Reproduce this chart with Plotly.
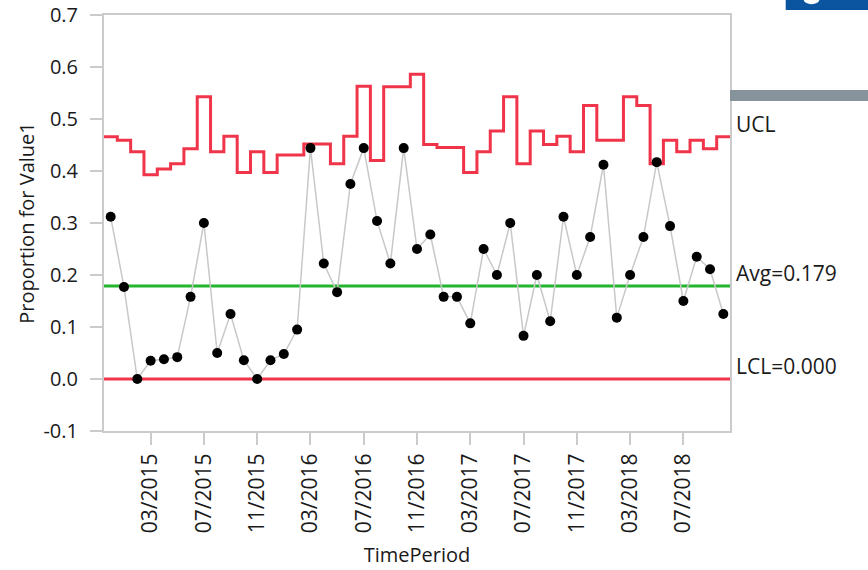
import plotly.graph_objects as go

months = ["12/2014", "01/2015", "02/2015", "03/2015", "04/2015", "05/2015", "06/2015", "07/2015",
          "08/2015", "09/2015", "10/2015", "11/2015", "12/2015", "01/2016", "02/2016", "03/2016",
          "04/2016", "05/2016", "06/2016", "07/2016", "08/2016", "09/2016", "10/2016", "11/2016",
          "12/2016", "01/2017", "02/2017", "03/2017", "04/2017", "05/2017", "06/2017", "07/2017",
          "08/2017", "09/2017", "10/2017", "11/2017", "12/2017", "01/2018", "02/2018", "03/2018",
          "04/2018", "05/2018", "06/2018", "07/2018", "08/2018", "09/2018", "10/2018"]

proportion = [0.312, 0.177, 0.000, 0.035, 0.038, 0.042, 0.158, 0.300,
              0.050, 0.125, 0.036, 0.000, 0.036, 0.048, 0.095, 0.444,
              0.222, 0.167, 0.375, 0.444, 0.304, 0.222, 0.444, 0.250,
              0.278, 0.158, 0.158, 0.107, 0.250, 0.200, 0.300, 0.083,
              0.200, 0.111, 0.312, 0.200, 0.273, 0.412, 0.118, 0.200,
              0.273, 0.417, 0.294, 0.150, 0.235, 0.211, 0.125]

ucl = [0.466, 0.459, 0.437, 0.393, 0.404, 0.414, 0.443, 0.543,
       0.437, 0.467, 0.397, 0.437, 0.397, 0.431, 0.431, 0.452,
       0.452, 0.414, 0.467, 0.563, 0.420, 0.562, 0.562, 0.586,
       0.451, 0.445, 0.445, 0.397, 0.437, 0.477, 0.543, 0.414,
       0.477, 0.451, 0.467, 0.437, 0.526, 0.459, 0.459, 0.543,
       0.526, 0.414, 0.459, 0.437, 0.459, 0.443, 0.466]

avg = 0.179
lcl = 0.000

x_tick_labels = ["03/2015", "07/2015", "11/2015", "03/2016", "07/2016", "11/2016",
                 "03/2017", "07/2017", "11/2017", "03/2018", "07/2018"]
y_tick_values = [-0.1, 0.0, 0.1, 0.2, 0.3, 0.4, 0.5, 0.6, 0.7]
y_tick_labels = ["-0.1", "0.0", "0.1", "0.2", "0.3", "0.4", "0.5", "0.6", "0.7"]

RED = "#f0344a"
GREEN = "#22b52e"
AXIS = "#cbcbcb"
TXT = "#1a1a1a"
FONT = "Open Sans"

n = len(months)
idx = list(range(n))

# step line for UCL: each subgroup's limit spans half a period either side
step_x, step_y = [], []
for i, u in enumerate(ucl):
    step_x += [i - 0.5, i + 0.5]
    step_y += [u, u]

fig = go.Figure()
fig.add_trace(go.Scatter(x=step_x, y=step_y, mode="lines",
                         line=dict(color=RED, width=3), hoverinfo="skip"))
fig.add_trace(go.Scatter(x=[-0.5, n - 0.5], y=[avg, avg], mode="lines",
                         line=dict(color=GREEN, width=3), hoverinfo="skip"))
fig.add_trace(go.Scatter(x=[-0.5, n - 0.5], y=[lcl, lcl], mode="lines",
                         line=dict(color=RED, width=3), hoverinfo="skip"))
fig.add_trace(go.Scatter(x=idx, y=proportion, mode="lines+markers",
                         line=dict(color="#c8c8c8", width=1.5),
                         marker=dict(color="black", size=10),
                         text=months))

tickvals = [months.index(t) for t in x_tick_labels]

fig.update_layout(
    width=868, height=570,
    margin=dict(l=104, r=138, t=15, b=139),
    paper_bgcolor="white", plot_bgcolor="white",
    showlegend=False,
    font=dict(family=FONT, size=20, color=TXT),
    xaxis=dict(range=[-0.5, n - 0.5], tickvals=tickvals, ticktext=x_tick_labels,
               tickangle=-90, showgrid=False, zeroline=False, automargin=False,
               showline=True, linecolor=AXIS, linewidth=2, mirror=True,
               ticks="outside", ticklen=12, tickcolor=AXIS, tickwidth=2,
               tickfont=dict(size=21),
               title=dict(text="TimePeriod", font=dict(size=20), standoff=16)),
    yaxis=dict(range=[-0.1, 0.7], tickvals=y_tick_values, ticktext=y_tick_labels,
               showgrid=False, zeroline=False, automargin=False,
               showline=True, linecolor=AXIS, linewidth=2, mirror=True,
               ticks="outside", ticklen=12, tickcolor=AXIS, tickwidth=2,
               ticklabelstandoff=8, tickfont=dict(size=20),
               title=dict(text="Proportion for Value1", font=dict(size=20), standoff=3)),
)

labels = [("UCL", ucl[-1]), (f"Avg={avg:.3f}", avg), (f"LCL={lcl:.3f}", lcl)]
for txt, yv in labels:
    fig.add_annotation(x=1, xref="paper", y=yv, yref="y", text=txt, showarrow=False,
                       xanchor="left", yanchor="bottom", xshift=4, yshift=-3,
                       font=dict(size=21, color=TXT))

# decorative elements at the top right of the page
fig.add_shape(type="rect", xref="paper", yref="paper", x0=1.0, x1=1.23,
              y0=0.7933, y1=0.8197, fillcolor="#87939a", line=dict(width=0), layer="above")
fig.add_shape(type="rect", xref="paper", yref="paper", x0=1.089, x1=1.23,
              y0=1.012, y1=1.04, fillcolor="#0b55a0", line=dict(width=0), layer="above")
fig.add_shape(type="circle", xref="paper", yref="paper", x0=1.1175, x1=1.143,
              y0=1.026, y1=1.05, fillcolor="white", line=dict(width=0), layer="above")

fig.write_html("out.html", config={"displayModeBar": False},
               post_script="document.body.style.margin='0';")
